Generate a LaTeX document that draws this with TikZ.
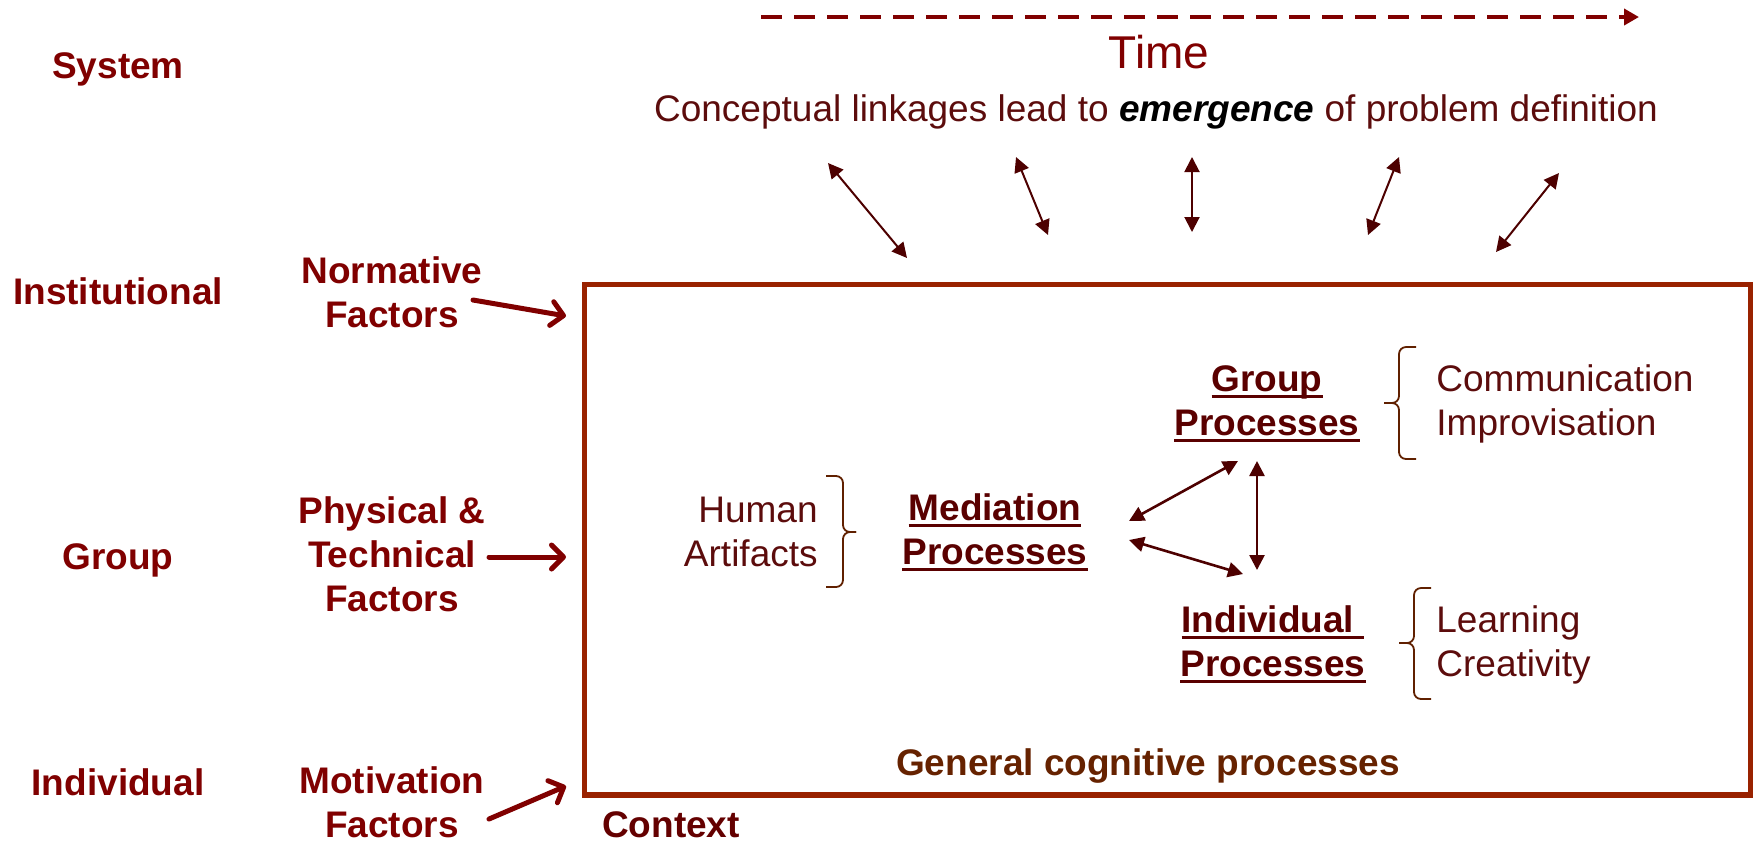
\documentclass[tikz,border=0pt]{standalone}
\usepackage{fontspec}
\setmainfont{Liberation Sans}
\usetikzlibrary{arrows.meta}

\definecolor{lblred}{RGB}{128,0,0}
\definecolor{procred}{RGB}{90,0,0}
\definecolor{plaintxt}{RGB}{92,12,12}
\definecolor{ctxred}{RGB}{100,0,0}
\definecolor{gcpbrown}{RGB}{102,34,0}
\definecolor{boxrust}{RGB}{153,34,0}
\definecolor{linkred}{RGB}{77,0,0}
\definecolor{bracebrown}{RGB}{96,32,0}

% underlined text with a heavier rule than \underline gives
\newsavebox\ulbox
\newcommand\ulx[1]{\sbox\ulbox{#1}\rlap{\rule[-3.4pt]{\wd\ulbox}{1.6pt}}\usebox\ulbox}

\newcommand\txtsize{\fontsize{18.5pt}{22pt}\selectfont}

\begin{document}
\begin{tikzpicture}[x=0.5pt,y=-0.5pt,
  level/.style={font=\bfseries\txtsize, text=lblred, align=center, inner sep=0pt},
  factor/.style={level},
  proc/.style={font=\bfseries\txtsize, text=procred, align=center, inner sep=0pt},
  plain/.style={font=\txtsize, text=plaintxt, inner sep=0pt},
  biarrow/.style={draw=linkred, line width=1pt,
    {Triangle[length=7.5pt,width=7.5pt]}-{Triangle[length=7.5pt,width=7.5pt]}},
  factorarrow/.style={draw=lblred, line width=2.5pt, line cap=round,
    -{Straight Barb[length=6pt,width=12pt,line cap=round,line join=round]}},
  bracket/.style={draw=bracebrown, line width=0.9pt, rounded corners=3.5pt},
]
\useasboundingbox (0,0) rectangle (1756,843);

% level labels on the left
\node[level] (sys)   at (118,69)  {System};
\node[level] (inst)  at (118,291) {Institutional};
\node[level] (grp)   at (118,560) {Group};
\node[level] (indiv) at (118,782) {Individual};

% contextual factors
\node[factor] (norm)  at (392,292) {Normative\\Factors};
\node[factor] (phys)  at (392,554) {Physical \&\\Technical\\Factors};
\node[factor] (motiv) at (392,802) {Motivation\\Factors};

% context frame
\draw[boxrust, line width=2.6pt] (584.5,284.5) rectangle (1750.5,795);
\node[font=\bfseries\txtsize, text=ctxred, anchor=base, inner sep=0pt] (ctx) at (671,837) {Context};
\node[font=\bfseries\txtsize, text=gcpbrown, anchor=base, inner sep=0pt] (gcp) at (1148,775) {General cognitive processes};

% factor arrows into the frame
\coordinate (normS)  at (473,300);
\coordinate (normE)  at (566,316);
\coordinate (physS)  at (489,557);
\coordinate (physE)  at (566,557);
\coordinate (motivS) at (489,819);
\coordinate (motivE) at (566,786);
\draw[factorarrow] (normS) -- (normE);
\draw[factorarrow] (physS) -- (physE);
\draw[factorarrow] (motivS) -- (motivE);

% time axis
\coordinate (timeS) at (761,17);
\coordinate (timeE) at (1639,17);
\draw[lblred, line width=2.2pt, dash pattern=on 10.5pt off 6pt,
  -{Triangle[length=7.5pt,width=8pt]}] (timeS) -- (timeE);
\node[font=\fontsize{23pt}{27pt}\selectfont, text=lblred, inner sep=0pt] (time) at (1159,52) {Time};
\node[font=\txtsize, text=plaintxt, inner sep=0pt] (concept) at (1156,112)
  {Conceptual linkages lead to {\color{black}\bfseries\itshape emergence} of problem definition};

% links between the frame and the emerging problem definition
\coordinate (l1a) at (828,163);  \coordinate (l1b) at (907,258);
\coordinate (l2a) at (1016,157); \coordinate (l2b) at (1048,235);
\coordinate (l3a) at (1192,157); \coordinate (l3b) at (1192,232);
\coordinate (l4a) at (1399,157); \coordinate (l4b) at (1368,235);
\coordinate (l5a) at (1559,173); \coordinate (l5b) at (1496,252);
\foreach \i in {1,...,5} { \draw[biarrow] (l\i a) -- (l\i b); }

% processes inside the frame
\node[plain, align=right, anchor=east] (human) at (818,532) {Human\\Artifacts};
\draw[bracket] (826,476) -- (843,476) -- (843,532) -- (856,532);
\draw[bracket] (856,532) -- (843,532) -- (843,587) -- (826,587);
\node[proc] (med) at (995,532) {\ulx{Mediation}\\\ulx{Processes}};

\node[proc] (gproc) at (1267,404) {\ulx{Group}\\\ulx{Processes}};
\node[proc] (iproc) at (1273,644) {\ulx{Individual\ }\\\ulx{Processes}};

\draw[bracket] (1416,347) -- (1399,347) -- (1399,403) -- (1384,403);
\draw[bracket] (1384,403) -- (1399,403) -- (1399,459) -- (1416,459);
\draw[bracket] (1431,588) -- (1414,588) -- (1414,643) -- (1399,643);
\draw[bracket] (1399,643) -- (1414,643) -- (1414,699) -- (1431,699);
\node[plain, align=left, anchor=west] (comm)  at (1436,404) {Communication\\Improvisation};
\node[plain, align=left, anchor=west] (learn) at (1436,645) {Learning\\Creativity};

\coordinate (mg1) at (1129,521); \coordinate (mg2) at (1238,461);
\coordinate (mi1) at (1129,540); \coordinate (mi2) at (1243,574);
\coordinate (gi1) at (1257,461); \coordinate (gi2) at (1257,570);
\draw[biarrow, line width=1.3pt] (mg1) -- (mg2);
\draw[biarrow, line width=1.3pt] (mi1) -- (mi2);
\draw[biarrow, line width=1.3pt] (gi1) -- (gi2);
\end{tikzpicture}
\end{document}
